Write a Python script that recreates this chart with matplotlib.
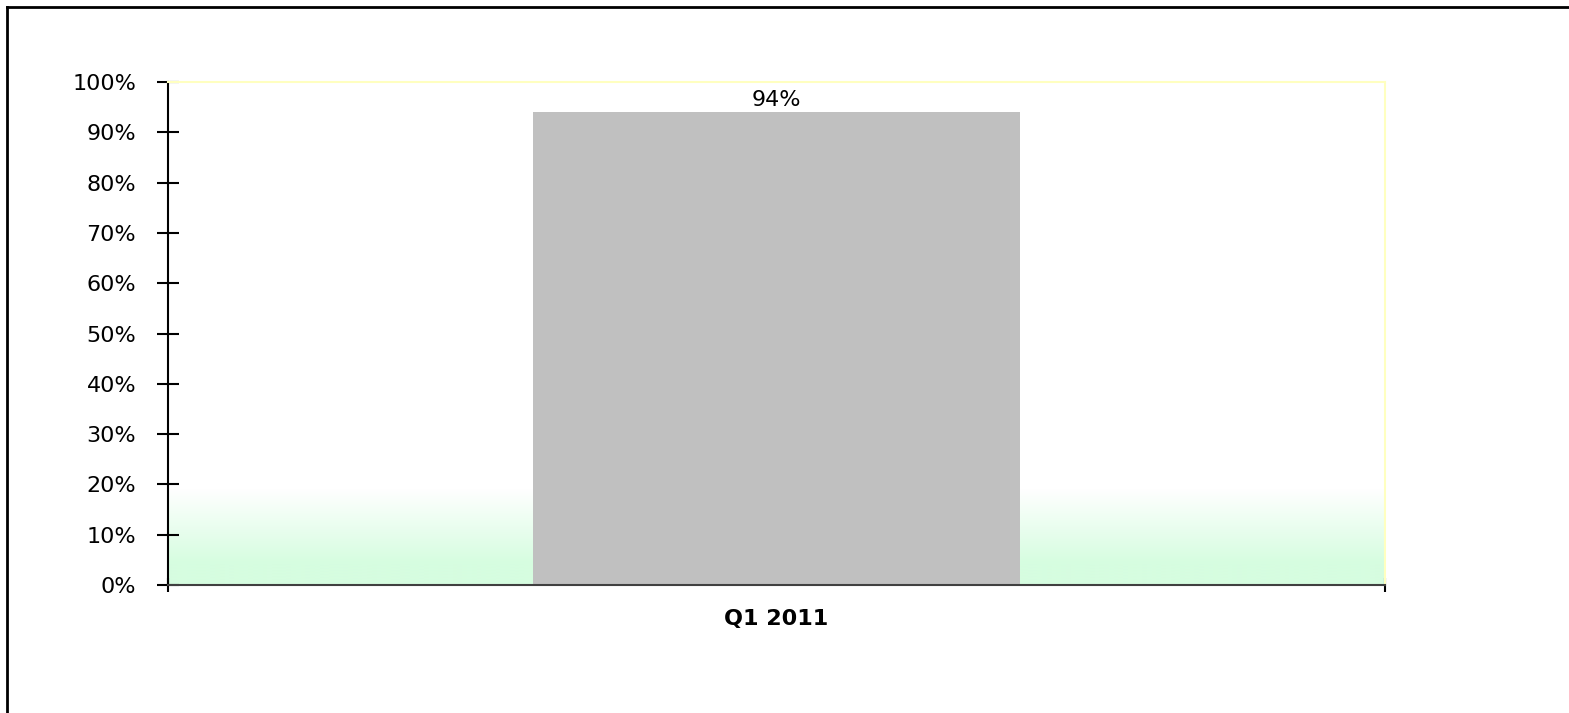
import numpy as np
import matplotlib.pyplot as plt
from matplotlib.lines import Line2D
from matplotlib.ticker import PercentFormatter

# data
categories = ["Q1 2011"]
values = [94]
yticks = [0, 10, 20, 30, 40, 50, 60, 70, 80, 90, 100]

plt.rcParams['font.family'] = ['DejaVu Sans']

fig = plt.figure(figsize=(15.69, 7.13), dpi=100)
ax = fig.add_axes([0.1071, 0.1795, 0.7756, 0.7055])

x = np.arange(len(categories))

# light green gradient at the bottom of the plot area (green at bottom -> white)
grad = np.clip(np.linspace(1.3, 0, 256), 0, 1).reshape(-1, 1)
bot = np.array([0xd6, 0xfd, 0xe0]) / 255.0
img = np.ones((256, 1, 3)) * (1 - grad[..., None]) + bot * grad[..., None]
ax.imshow(img, extent=[-0.5, len(categories) - 0.5, 0, 19], aspect='auto',
          origin='lower', zorder=0, interpolation='bilinear')

bars = ax.bar(x, values, width=0.4, color='#c0c0c0', zorder=2)
for b, v in zip(bars, values):
    ax.text(b.get_x() + b.get_width() / 2, v + 0.4, f"{v}%", ha='center',
            va='bottom', fontsize=16, color='black')

ax.set_xlim(-0.5, len(categories) - 0.5)
ax.set_ylim(0, 100)
ax.set_yticks(yticks)
ax.yaxis.set_major_formatter(PercentFormatter(decimals=0))
ax.set_xticks(x)
ax.set_xticklabels(categories, fontweight='bold', fontsize=16)
ax.set_xticks(np.arange(len(categories) + 1) - 0.5, minor=True)

ax.tick_params(axis='y', direction='inout', length=16, width=1.5,
               labelsize=16, pad=15)
ax.tick_params(axis='x', which='major', length=0, pad=17)
ax.tick_params(axis='x', which='minor', direction='inout', length=10,
               width=1.5)

ax.spines['left'].set_color('black')
ax.spines['left'].set_linewidth(1.5)
ax.spines['bottom'].set_color('#404040')
ax.spines['bottom'].set_linewidth(1.5)
for s in ['top', 'right']:
    ax.spines[s].set_color('#ffffc0')
    ax.spines[s].set_linewidth(1.5)

# outer frame (left and top only)
x0 = 7 / 1569
y0 = 1 - 7 / 713
fig.add_artist(Line2D([x0, 1], [y0, y0], transform=fig.transFigure,
                      color='black', lw=2))
fig.add_artist(Line2D([x0, x0], [0, y0], transform=fig.transFigure,
                      color='black', lw=2))

fig.savefig("out.png", dpi=100)
